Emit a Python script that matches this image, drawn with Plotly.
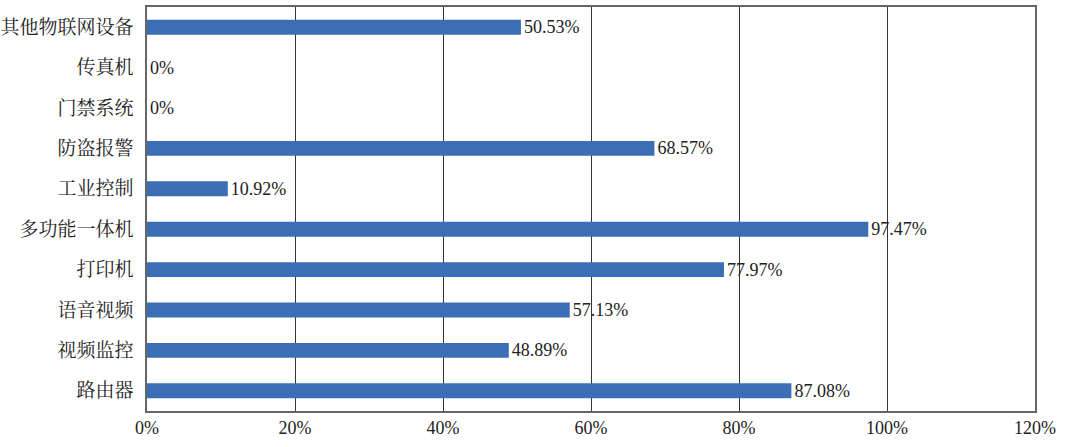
import plotly.graph_objects as go

categories = ["路由器", "视频监控", "语音视频", "打印机", "多功能一体机",
              "工业控制", "防盗报警", "门禁系统", "传真机", "其他物联网设备"]
values = [87.08, 48.89, 57.13, 77.97, 97.47, 10.92, 68.57, 0, 0, 50.53]
labels = ["87.08%", "48.89%", "57.13%", "77.97%", "97.47%",
          "10.92%", "68.57%", "0%", "0%", "50.53%"]
tick_vals = [0, 20, 40, 60, 80, 100, 120]
tick_text = ["0%", "20%", "40%", "60%", "80%", "100%", "120%"]

font_family = "Liberation Serif, Noto Serif CJK SC, Noto Sans CJK SC, serif"

fig = go.Figure(go.Bar(
    y=categories, x=values, orientation="h",
    marker=dict(color="#3C6EB6", line=dict(width=0)),
    text=labels, textposition="outside", cliponaxis=False,
    constraintext="none",
    textfont=dict(family=font_family, size=18, color="#222222"),
))

fig.update_layout(
    width=1080, height=447,
    margin=dict(l=147, r=45, t=7, b=36),
    paper_bgcolor="white", plot_bgcolor="white",
    bargap=0.63, showlegend=False,
    font=dict(family=font_family, size=16, color="#222222"),
    xaxis=dict(range=[0, 120], tickvals=tick_vals, ticktext=tick_text,
               showgrid=True, gridcolor="#333333", gridwidth=1,
               showline=True, linecolor="#666666", linewidth=1.5, mirror=True,
               ticks="", zeroline=False, tickfont=dict(size=18),
               automargin=False),
    yaxis=dict(categoryorder="array", categoryarray=categories,
               showline=True, linecolor="#666666", linewidth=1.5, mirror=True,
               ticks="", showgrid=False, ticklabelstandoff=8,
               tickfont=dict(size=19), automargin=False),
)

fig.write_html("out.html")
